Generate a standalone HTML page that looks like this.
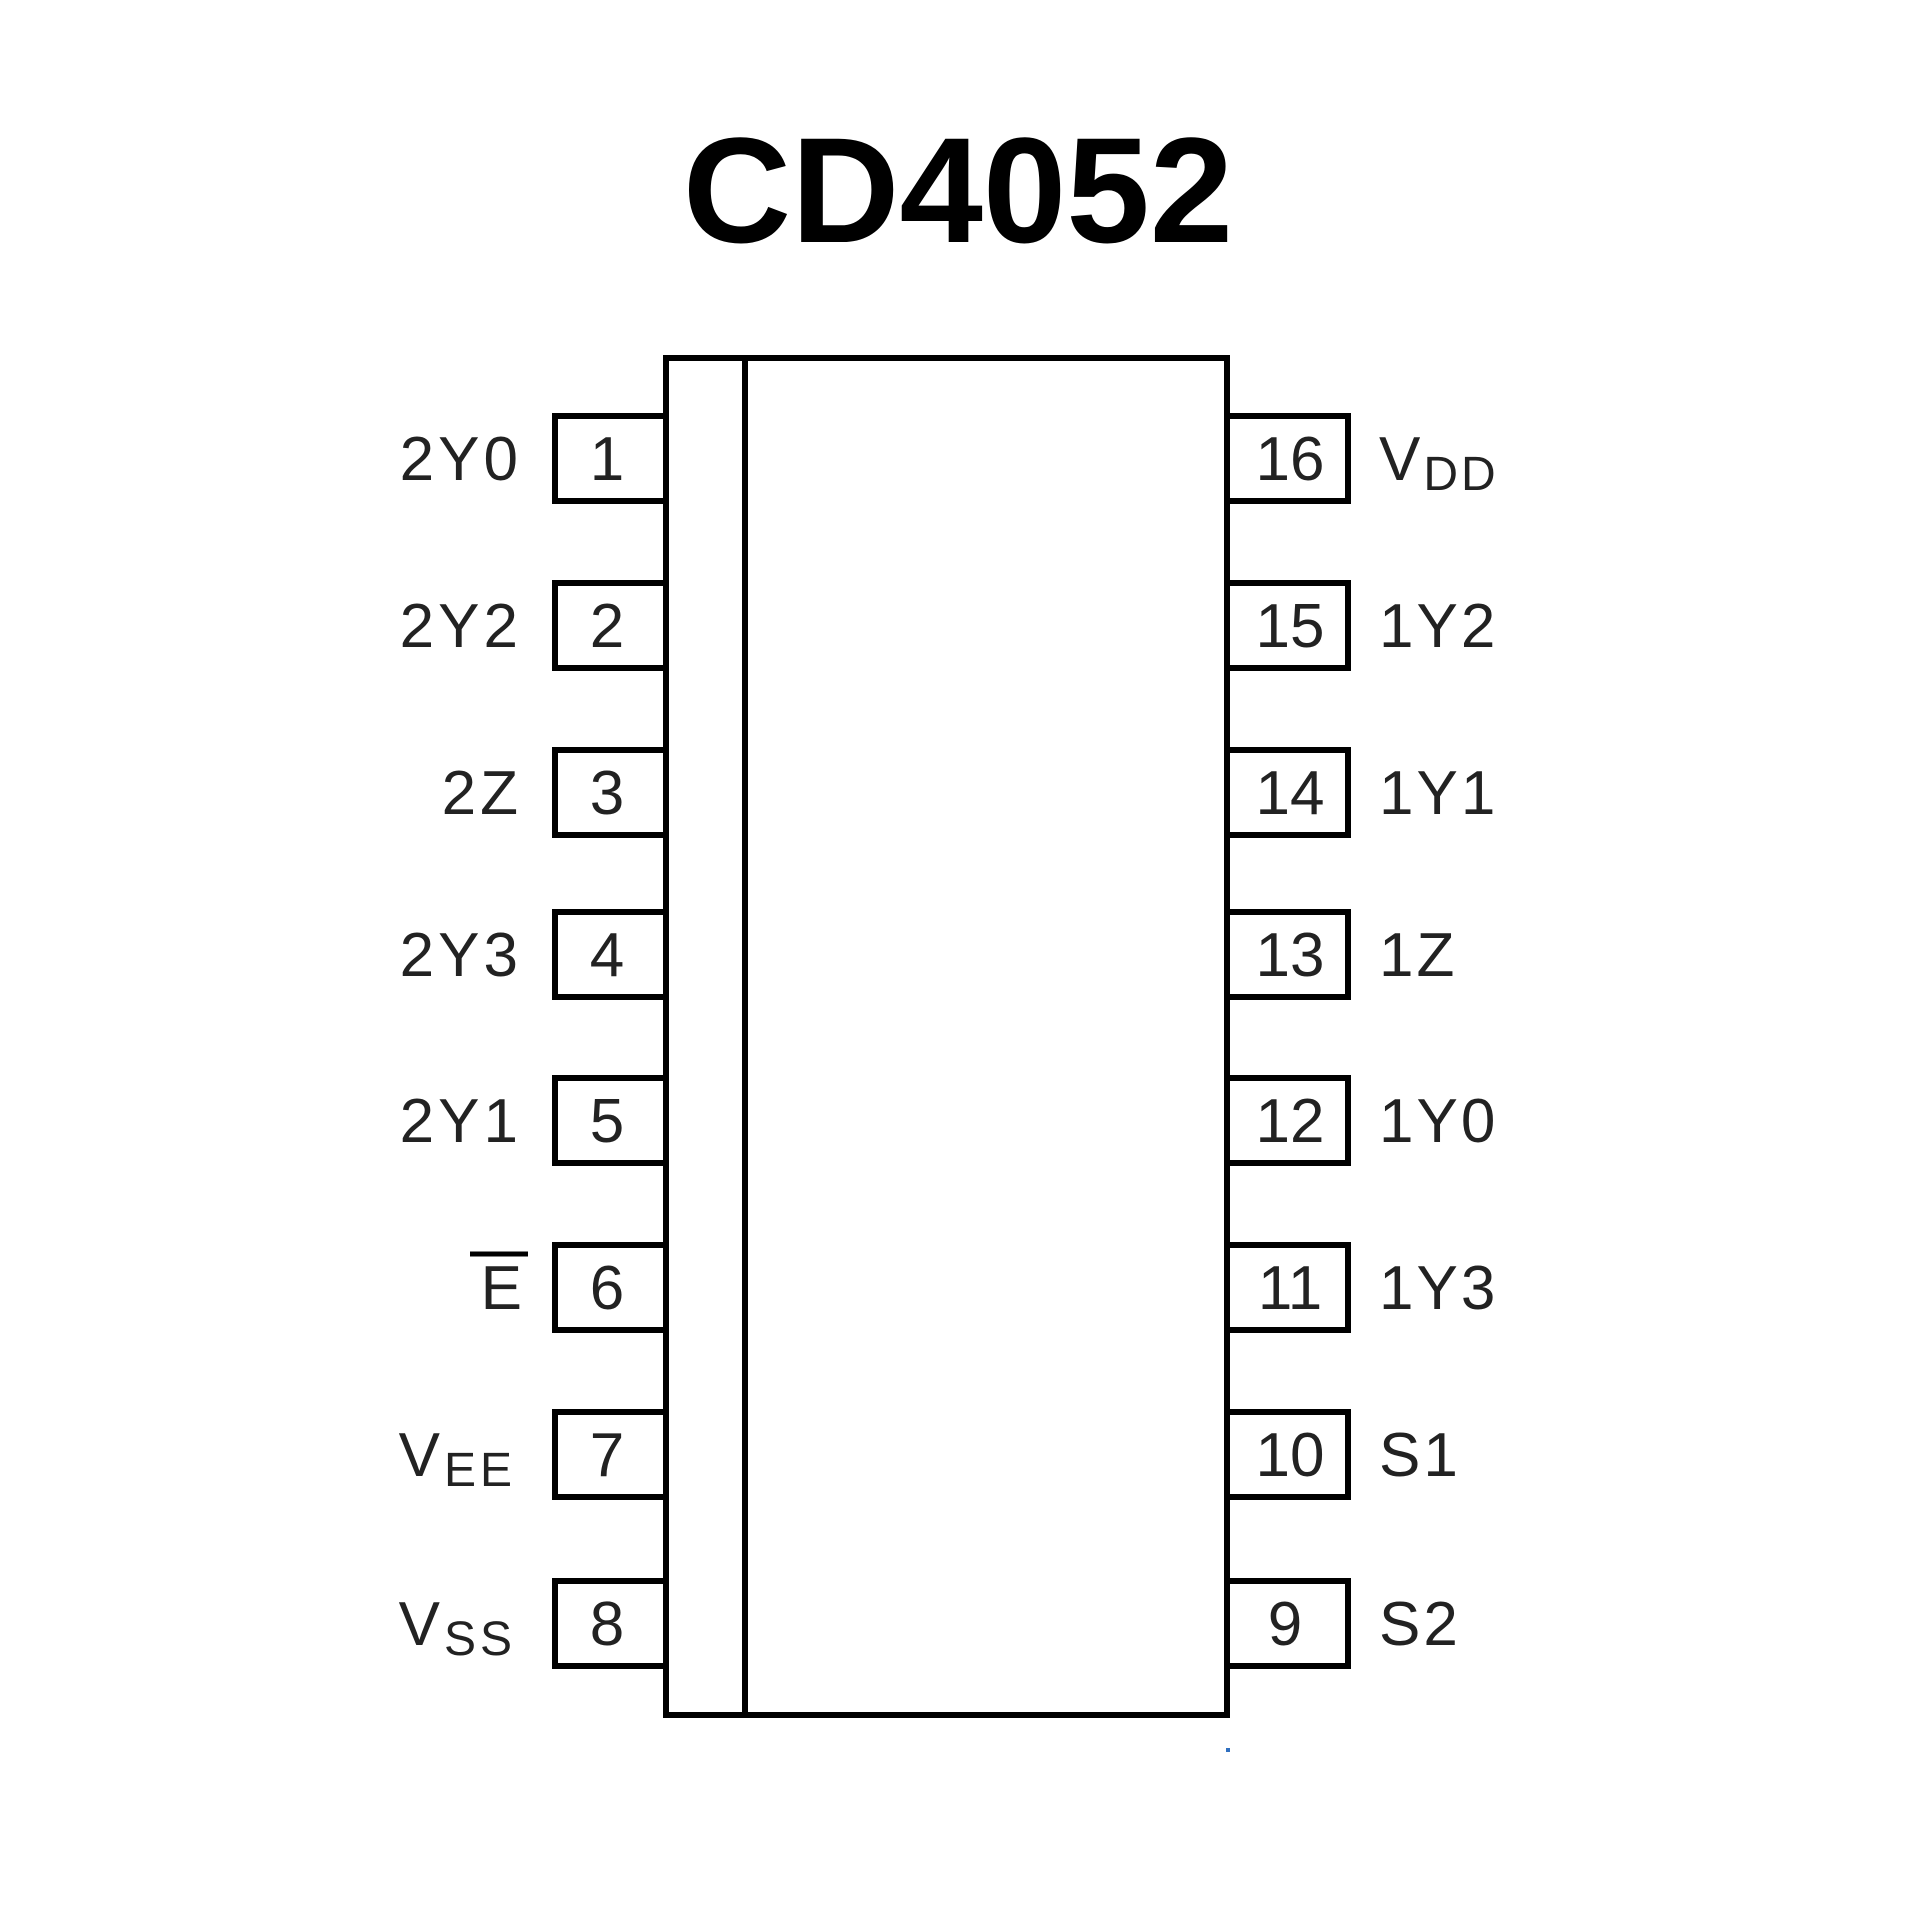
<!DOCTYPE html>
<html><head><style>html,body{margin:0;padding:0;background:#fff}svg{display:block}</style></head>
<body>
<svg width="1920" height="1920" viewBox="0 0 1920 1920" xmlns="http://www.w3.org/2000/svg">
<text x="958" y="242" text-anchor="middle" font-family="Liberation Sans, sans-serif" font-weight="bold" font-size="150">CD4052</text>
<g fill="none" stroke="#000" stroke-width="6">
<rect x="666" y="358" width="561" height="1357"/>
<line x1="745" y1="358" x2="745" y2="1715"/>
</g>
<g fill="#fff" stroke="#000" stroke-width="6">
<rect x="555" y="416" width="111" height="85"/>
<rect x="555" y="583" width="111" height="85"/>
<rect x="555" y="750" width="111" height="85"/>
<rect x="555" y="912" width="111" height="85"/>
<rect x="555" y="1078" width="111" height="85"/>
<rect x="555" y="1245" width="111" height="85"/>
<rect x="555" y="1412" width="111" height="85"/>
<rect x="555" y="1581" width="111" height="85"/>
<rect x="1227" y="416" width="121" height="85"/>
<rect x="1227" y="583" width="121" height="85"/>
<rect x="1227" y="750" width="121" height="85"/>
<rect x="1227" y="912" width="121" height="85"/>
<rect x="1227" y="1078" width="121" height="85"/>
<rect x="1227" y="1245" width="121" height="85"/>
<rect x="1227" y="1412" width="121" height="85"/>
<rect x="1227" y="1581" width="121" height="85"/>
</g>
<g font-family="Liberation Sans, sans-serif" font-size="62" fill="#222" text-anchor="middle">
<text x="607" y="480">1</text><text x="607" y="647">2</text><text x="607" y="814">3</text><text x="607" y="976">4</text>
<text x="607" y="1142">5</text><text x="607" y="1309">6</text><text x="607" y="1476">7</text><text x="607" y="1645">8</text>
<text x="1290" y="480">16</text><text x="1290" y="647">15</text><text x="1290" y="814">14</text><text x="1290" y="976">13</text>
<text x="1290" y="1142">12</text><text x="1290" y="1309">11</text><text x="1290" y="1476">10</text><text x="1285" y="1645">9</text>
</g>
<g font-family="Liberation Sans, sans-serif" font-size="62" fill="#222" text-anchor="end" letter-spacing="4">
<text x="522" y="480">2Y0</text><text x="522" y="647">2Y2</text><text x="522" y="814">2Z</text><text x="522" y="976">2Y3</text>
<text x="522" y="1142">2Y1</text><text x="526" y="1309">E</text>
<text x="516" y="1476">V<tspan font-size="48" dy="10">EE</tspan></text>
<text x="516" y="1645">V<tspan font-size="48" dy="10">SS</tspan></text>
</g>
<line x1="470" y1="1254" x2="528" y2="1254" stroke="#000" stroke-width="5"/>
<g font-family="Liberation Sans, sans-serif" font-size="62" fill="#222" letter-spacing="3">
<text x="1379" y="480">V<tspan font-size="48" dy="10">DD</tspan></text>
<text x="1379" y="647">1Y2</text><text x="1379" y="814">1Y1</text><text x="1379" y="976">1Z</text>
<text x="1379" y="1142">1Y0</text><text x="1379" y="1309">1Y3</text><text x="1379" y="1476">S1</text><text x="1379" y="1645">S2</text>
</g>
<rect x="1226" y="1748" width="4" height="4" fill="#3070c0"/>
</svg>
</body></html>
